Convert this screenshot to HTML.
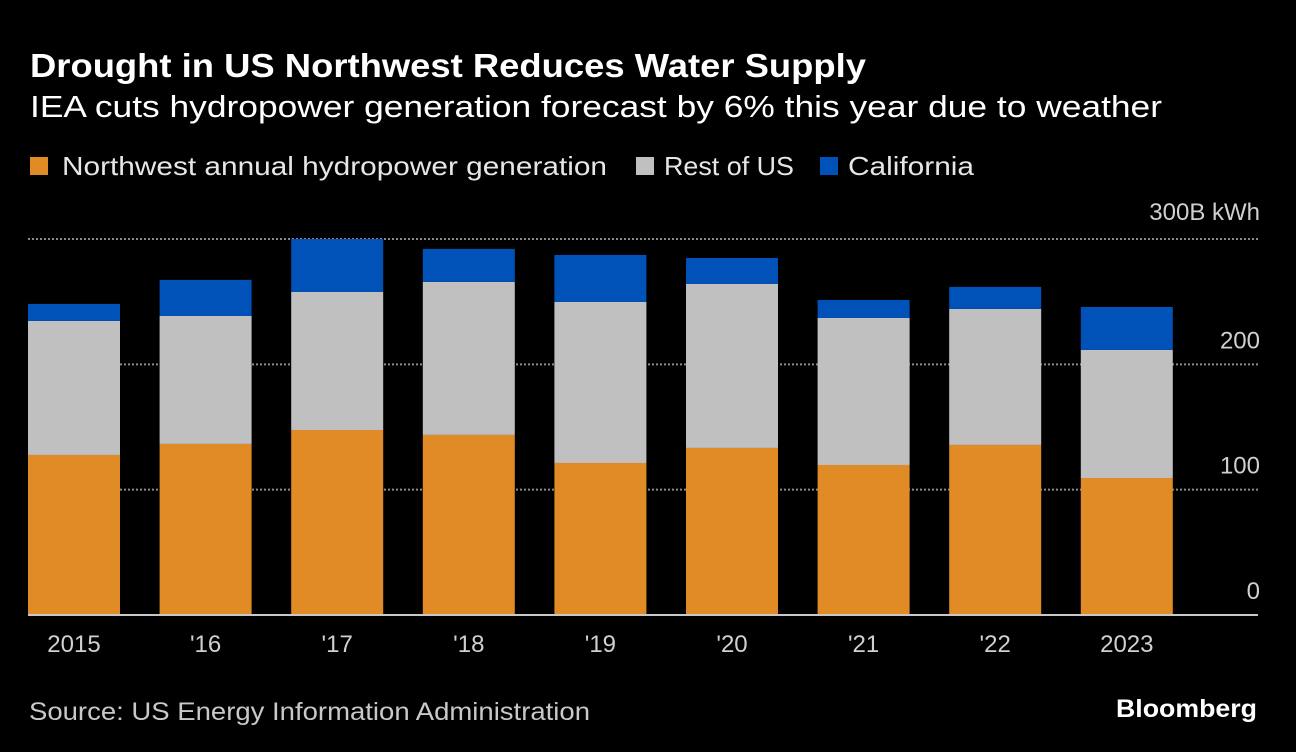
<!DOCTYPE html>
<html><head><meta charset="utf-8">
<style>
html,body{margin:0;padding:0;background:#000;}
svg{display:block;font-family:"Liberation Sans",sans-serif;}
</style></head>
<body>
<svg id="chart" width="1296" height="752" viewBox="0 0 1296 752" xmlns="http://www.w3.org/2000/svg">
<rect width="1296" height="752" fill="#000"/>
<text x="30" y="77" font-size="33" font-weight="bold" fill="#fff" textLength="836" lengthAdjust="spacingAndGlyphs">Drought in US Northwest Reduces Water Supply</text>
<text x="30" y="117" font-size="31" fill="#fff" textLength="1132" lengthAdjust="spacingAndGlyphs">IEA cuts hydropower generation forecast by 6% this year due to weather</text>
<g>
<g><rect x="30" y="157" width="18" height="18" fill="#e08b26"/><text x="62" y="175" font-size="26" fill="#e6e6e6" textLength="545" lengthAdjust="spacingAndGlyphs">Northwest annual hydropower generation</text></g>
<g><rect x="636" y="157" width="18" height="18" fill="#c0c0c0"/><text x="664" y="175" font-size="26" fill="#e6e6e6" textLength="130" lengthAdjust="spacingAndGlyphs">Rest of US</text></g>
<g><rect x="820" y="157" width="18" height="18" fill="#0052b8"/><text x="848" y="175" font-size="26" fill="#e6e6e6" textLength="126" lengthAdjust="spacingAndGlyphs">California</text></g>
</g>
<g id="grid"></g>
<g id="bars"></g>
<g id="xlabels"></g>
<text x="29" y="720" font-size="25" fill="#c8c8c8" textLength="561" lengthAdjust="spacingAndGlyphs">Source: US Energy Information Administration</text>
<text x="1116" y="717" font-size="25" font-weight="bold" fill="#fff" textLength="141" lengthAdjust="spacingAndGlyphs">Bloomberg</text>
</svg>
<script>
const categories = ["2015","'16","'17","'18","'19","'20","'21","'22","2023"];
const northwest = [127.7,136.5,147.6,143.7,121.3,133.3,119.7,135.7,109.3];
const restOfUS = [106.9,102.1,110.2,122.1,128.5,130.9,117.3,108.5,102.2];
const california = [13.6,28.8,42.2,26.3,37.5,20.7,14.4,17.6,34.3];
const yTicks = [0,100,200,300];
const yTickLabels = ["0","100","200","300B kWh"];

const NS = "http://www.w3.org/2000/svg";
const y0 = 615, pxPer = 1.2533;
const yScale = v => y0 - v * pxPer;
const xStart = 28, step = 131.6, barW = 92;
const xScale = i => xStart + i * step;

const grid = document.getElementById('grid');
yTicks.forEach((t, i) => {
  const y = yScale(t);
  if (t !== 0) {
    const l = document.createElementNS(NS, 'line');
    
    
    l.setAttribute('x1', 28); l.setAttribute('x2', 1258);
    l.setAttribute('y1', y); l.setAttribute('y2', y);
    l.setAttribute('stroke', '#8a8a8a'); l.setAttribute('stroke-width', '2');
    l.setAttribute('stroke-dasharray', '2 2');
    grid.appendChild(l);
  }
  const tx = document.createElementNS(NS, 'text');
  
  
  tx.setAttribute('x', 1260);
  tx.setAttribute('y', t === 300 ? y - 19 : y - 16);
  tx.setAttribute('text-anchor', 'end');
  tx.setAttribute('font-size', '24');
  tx.setAttribute('fill', '#d0d0d0');
  tx.textContent = yTickLabels[i];
  grid.appendChild(tx);
});

const bars = document.getElementById('bars');
function seg(x, v0, v1, color, name) {
  const r = document.createElementNS(NS, 'rect');
  
  
  r.setAttribute('x', x); r.setAttribute('width', barW);
  r.setAttribute('y', yScale(v1)); r.setAttribute('height', yScale(v0) - yScale(v1));
  r.setAttribute('fill', color);
  bars.appendChild(r);
}
categories.forEach((c, i) => {
  const x = xScale(i);
  const a = northwest[i], b = a + restOfUS[i], d = b + california[i];
  seg(x, 0, a, '#e08b26', 'bar-northwest');
  seg(x, a, b, '#c0c0c0', 'bar-rest-of-us');
  seg(x, b, d, '#0052b8', 'bar-california');
});
const base = document.createElementNS(NS, 'line');


base.setAttribute('x1', 28); base.setAttribute('x2', 1258);
base.setAttribute('y1', y0); base.setAttribute('y2', y0);
base.setAttribute('stroke', '#c8c8c8'); base.setAttribute('stroke-width', '2');
bars.appendChild(base);

const xl = document.getElementById('xlabels');
categories.forEach((c, i) => {
  const t = document.createElementNS(NS, 'text');
  
  
  t.setAttribute('x', xScale(i) + barW / 2);
  t.setAttribute('y', 652);
  t.setAttribute('text-anchor', 'middle');
  t.setAttribute('font-size', '24');
  t.setAttribute('fill', '#d0d0d0');
  t.textContent = c;
  xl.appendChild(t);
});
</script>
</body></html>
